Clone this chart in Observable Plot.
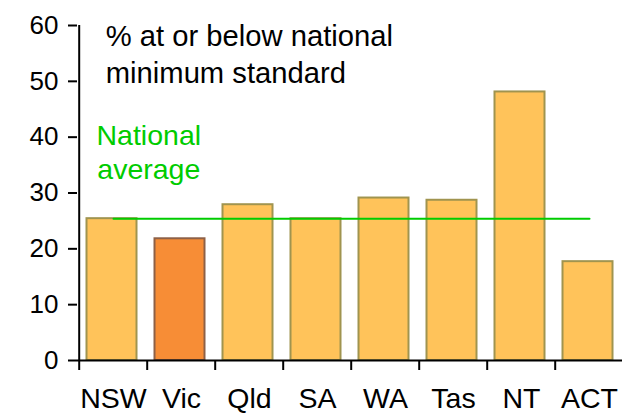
<!DOCTYPE html>
<html>
<head>
<meta charset="utf-8">
<script src="https://cdn.jsdelivr.net/npm/d3@7"></script>
<script src="https://cdn.jsdelivr.net/npm/@observablehq/plot@0.6"></script>
<style>
html, body { margin: 0; padding: 0; background: #fff; overflow: hidden; }
#chart svg { display: block; }
</style>
</head>
<body>
<div id="chart"></div>
<script>
// ---- data ----
const states = ["NSW", "Vic", "Qld", "SA", "WA", "Tas", "NT", "ACT"];
const values = [25.4, 21.8, 27.9, 25.4, 29.1, 28.7, 48.1, 17.7];
const nationalAverage = 25.4;
const yTicks = [0, 10, 20, 30, 40, 50, 60];
const highlighted = "Vic";
const titleText = "% at or below national\nminimum standard";
const averageLabel = "National\naverage";

// ---- colours ----
const barFill = "#FFC35A", barStroke = "#A0944F";
const hiFill = "#F78D36", hiStroke = "#8E6046";
const green = "#00CC00";

const data = states.map((s, i) => ({state: s, value: values[i]}));

const W = 622, H = 414;
const mL = 77, mR = -3.8, mT = 25, mB = 54;
const bw = (W - mL - mR) / states.length;
const font = "'Liberation Sans', Arial, Helvetica, sans-serif";

const chart = Plot.plot({
  width: W,
  height: H,
  marginLeft: mL,
  marginRight: mR,
  marginTop: mT,
  marginBottom: mB,
  style: {fontFamily: font, color: "#000", background: "#fff", overflow: "visible"},
  x: {domain: states, padding: 0, axis: null, label: null},
  y: {domain: [0, 60], axis: null, label: null},
  marks: [
    Plot.barY(data, {
      x: "state", y: "value",
      fill: d => d.state === highlighted ? hiFill : barFill,
      stroke: d => d.state === highlighted ? hiStroke : barStroke,
      strokeWidth: 2,
      insetLeft: 7.5, insetRight: 10.5
    }),
    Plot.lineY(states, {x: d => d, y: () => nationalAverage, stroke: green, strokeWidth: 2}),
    // axes
    Plot.ruleY([0], {stroke: "#000", strokeWidth: 2}),
    Plot.ruleX([states[0]], {y1: 0, y2: 60, dx: -bw / 2, stroke: "#000", strokeWidth: 2}),
    Plot.axisY({ticks: yTicks, label: null, tickSize: 9, tickPadding: 10, strokeWidth: 2, fontSize: 26, stroke: "#000"}),
    Plot.axisX({label: null, tickSize: 10, tickFormat: () => "", dx: -bw / 2, strokeWidth: 2, stroke: "#000"}),
    Plot.axisX({label: null, tickSize: 0, tickPadding: 27, fontSize: 28.5}),
    // annotations
    Plot.text([titleText], {
      frameAnchor: "top-left", textAnchor: "start", lineAnchor: "top",
      dx: 28.3, dy: -6, fontSize: 29.2, lineHeight: 1.28, fill: "#000"
    }),
    Plot.text([averageLabel], {
      frameAnchor: "top-left", textAnchor: "middle", lineAnchor: "top",
      dx: 71.3, dy: 95.5, fontSize: 28.5, lineHeight: 1.2, fill: green
    })
  ]
});

document.getElementById("chart").appendChild(chart);
</script>
</body>
</html>
